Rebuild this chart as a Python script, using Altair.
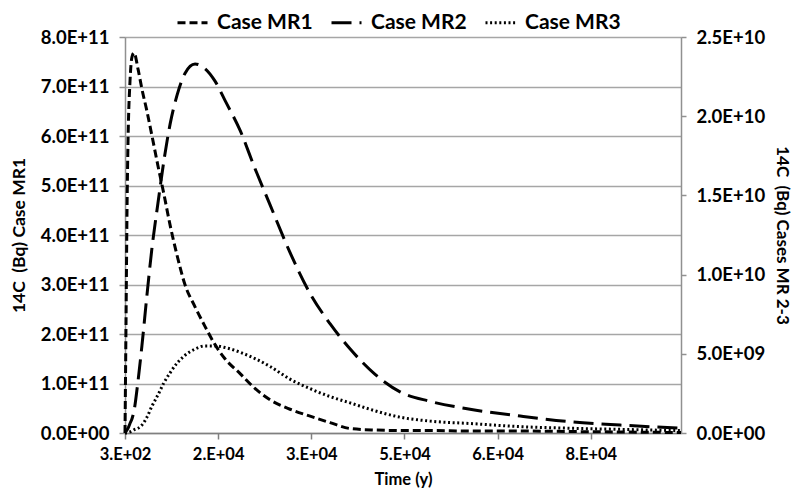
import json
import altair as alt
import pandas as pd

# ---- data ----
time_y = [300, 470, 640, 810, 1140, 1480, 1820, 2500, 3150, 4000, 4850, 5850,
          6900, 7900, 9050, 10400, 12100, 13800, 15500, 17150, 19700, 22200,
          24750, 28100, 31500, 34850, 38250, 42450, 46650, 51700, 58450,
          66900, 75300, 83750, 94000]
mr1 = [0, 2.2e11, 4.5e11, 5.9e11, 7.1e11, 7.6e11, 7.68e11, 7.35e11, 6.95e11,
       6.5e11, 6.0e11, 5.4e11, 4.8e11, 4.2e11, 3.6e11, 3.0e11, 2.55e11,
       2.15e11, 1.78e11, 1.5e11, 1.2e11, 0.9e11, 0.67e11, 0.48e11, 0.34e11,
       0.21e11, 0.09e11, 0.06e11, 0.05e11, 0.05e11, 0.04e11, 0.04e11,
       0.03e11, 0.02e11, 0.01e11]
mr2 = [0, 0.01e10, 0.02e10, 0.03e10, 0.06e10, 0.09e10, 0.14e10, 0.33e10,
       0.55e10, 0.87e10, 1.17e10, 1.45e10, 1.73e10, 1.95e10, 2.13e10,
       2.27e10, 2.33e10, 2.30e10, 2.22e10, 2.10e10, 1.91e10, 1.67e10,
       1.44e10, 1.14e10, 0.88e10, 0.69e10, 0.53e10, 0.37e10, 0.26e10,
       0.20e10, 0.15e10, 0.107e10, 0.071e10, 0.05e10, 0.03e10]
mr3 = [0, 0, 0, 0.003e10, 0.007e10, 0.012e10, 0.02e10, 0.03e10, 0.05e10,
       0.10e10, 0.17e10, 0.24e10, 0.32e10, 0.38e10, 0.44e10, 0.49e10,
       0.53e10, 0.55e10, 0.55e10, 0.54e10, 0.51e10, 0.47e10, 0.42e10,
       0.34e10, 0.28e10, 0.23e10, 0.19e10, 0.14e10, 0.10e10, 0.075e10,
       0.06e10, 0.04e10, 0.03e10, 0.023e10, 0.015e10]

series_names = ["Case MR1", "Case MR2", "Case MR3"]

x_tick_values = [300, 16000, 31700, 47400, 63100, 78800]
x_tick_labels = ["3.E+02", "2.E+04", "3.E+04", "5.E+04", "6.E+04", "8.E+04"]
left_tick_labels = ["0.0E+00", "1.0E+11", "2.0E+11", "3.0E+11", "4.0E+11",
                    "5.0E+11", "6.0E+11", "7.0E+11", "8.0E+11"]
right_tick_labels = ["0.0E+00", "5.0E+09", "1.0E+10", "1.5E+10", "2.0E+10",
                     "2.5E+10"]

rows = []
for name, vals in zip(series_names, [mr1, mr2, mr3]):
    for t, v in zip(time_y, vals):
        rows.append({"time": t, "value": v, "series": name})
df = pd.DataFrame(rows)

FONT = "Lato"

x_label_expr = f"{json.dumps(x_tick_labels)}[indexof({json.dumps(x_tick_values)}, datum.value)]"
left_label_expr = f"{json.dumps(left_tick_labels)}[round(datum.value / 1e11)]"
right_label_expr = f"{json.dumps(right_tick_labels)}[round(datum.value / 5e9)]"

x_enc = alt.X(
    "time:Q",
    scale=alt.Scale(domain=[300, 94000], nice=False, zero=False),
    axis=alt.Axis(
        title="Time (y)", values=x_tick_values, labelExpr=x_label_expr,
        grid=False, domainColor="#808080", domainWidth=1.5,
        tickColor="#808080", tickWidth=1.5, tickSize=6,
        labelFlush=False, labelOverlap=False,
        labelFont=FONT, labelFontSize=16.5, labelFontWeight="bold",
        labelColor="black", labelPadding=7,
        titleFont=FONT, titleFontSize=16.5, titleFontWeight="bold",
        titleColor="black", titlePadding=9,
    ),
)

dash_enc = alt.StrokeDash(
    "series:N",
    scale=alt.Scale(domain=series_names, range=[[8, 4], [20, 8], [2, 2.6]]),
    legend=alt.Legend(
        title=None, orient="none", legendX=51, legendY=-31, padding=0,
        direction="horizontal", symbolType="stroke", symbolSize=900,
        symbolStrokeWidth=3, symbolStrokeColor="black",
        labelFont=FONT, labelFontSize=21, labelFontWeight="bold",
        labelColor="black", labelOffset=8, columnPadding=12, labelLimit=300,
    ),
)
width_enc = alt.StrokeWidth(
    "series:N",
    scale=alt.Scale(domain=series_names, range=[3, 3, 2.5]),
    legend=None,
)

left = alt.Chart(df).transform_filter(
    alt.datum.series == "Case MR1"
).mark_line(color="black", interpolate="monotone").encode(
    x=x_enc,
    y=alt.Y(
        "value:Q",
        scale=alt.Scale(domain=[0, 8e11], nice=False),
        axis=alt.Axis(
            title="14C\u00a0 (Bq) Case MR1", orient="left",
            values=[i * 1e11 for i in range(9)], labelExpr=left_label_expr,
            grid=True, gridColor="#a6a6a6", gridWidth=1.5,
            domainColor="#909090", domainWidth=1.5,
            tickColor="#909090", tickWidth=1.5, tickSize=6,
            labelFont=FONT, labelFontSize=18.5, labelFontWeight="bold",
            labelColor="black", labelPadding=10,
            titleFont=FONT, titleFontSize=17.5, titleFontWeight="bold",
            titleColor="black", titlePadding=12,
        ),
    ),
    strokeDash=dash_enc,
    strokeWidth=width_enc,
)

right = alt.Chart(df).transform_filter(
    alt.datum.series != "Case MR1"
).mark_line(color="black", interpolate="monotone").encode(
    x=x_enc,
    y=alt.Y(
        "value:Q",
        scale=alt.Scale(domain=[0, 2.5e10], nice=False),
        axis=alt.Axis(
            title="14C\u00a0 (Bq) Cases MR 2-3", orient="right",
            values=[i * 5e9 for i in range(6)], labelExpr=right_label_expr,
            grid=False, domainColor="#909090", domainWidth=1.5,
            tickColor="#909090", tickWidth=1.5, tickSize=5,
            labelFont=FONT, labelFontSize=18.5, labelFontWeight="bold",
            labelColor="black", labelPadding=10,
            titleFont=FONT, titleFontSize=17, titleFontWeight="bold",
            titleColor="black", titlePadding=8,
        ),
    ),
    strokeDash=dash_enc,
    strokeWidth=width_enc,
)

chart = alt.layer(left, right).resolve_scale(y="independent").properties(
    width=556, height=396,
    autosize=alt.AutoSizeParams(type="none"),
    padding={"left": 117, "top": 29, "right": 112, "bottom": 56},
).configure_view(stroke=None).configure(background="white")

chart.save("out.html", embed_options={"renderer": "svg", "actions": False})
